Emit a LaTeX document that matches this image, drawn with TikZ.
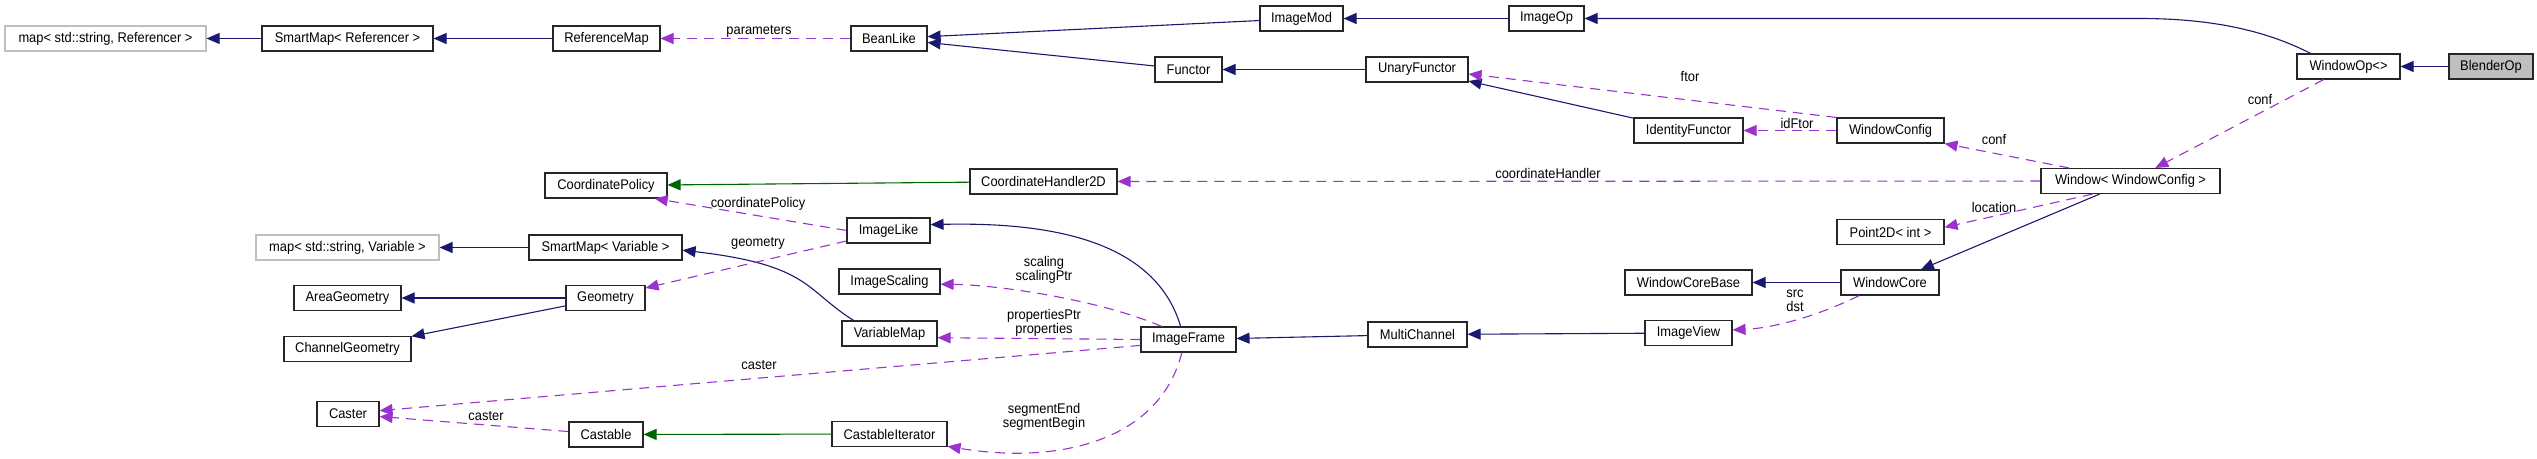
\documentclass[tikz,border=0pt]{standalone}
\usepackage{fontspec}
\setmainfont{Liberation Sans}[FakeStretch=0.92]
\usetikzlibrary{arrows.meta}
\definecolor{inhblue}{HTML}{191970}
\definecolor{usepurple}{HTML}{9A32CD}
\definecolor{tplgreen}{HTML}{006400}
\definecolor{extgray}{HTML}{BFBFBF}

\begin{document}
\begin{tikzpicture}[x=1pt, y=-1pt, every node/.style={font=\fontsize{14}{14}\selectfont},
    cls/.style={draw=black!85, line width=1.1pt, inner sep=0pt, minimum height=25pt},
    ext/.style={cls, draw=extgray},
    lbl/.style={align=center, inner sep=0pt},
    inh/.style={draw=inhblue, line width=1.1pt, -{Triangle[length=13pt,width=11pt]}},
    tpl/.style={inh, draw=tplgreen},
    usg/.style={inh, draw=usepurple, dash pattern=on 10pt off 7pt}]
  \useasboundingbox (0,0) rectangle (2537,458);
  % classes
  \node[ext, minimum width=201] (mapR) at (105.5,38.5) {map< std::string, Referencer >};
  \node[cls, minimum width=171] (smapR) at (347.5,38.5) {SmartMap< Referencer >};
  \node[cls, minimum width=107] (refMap) at (606.5,38.5) {ReferenceMap};
  \node[cls, minimum width=76] (bean) at (889,38.5) {BeanLike};
  \node[cls, minimum width=83] (imod) at (1301.5,18.5) {ImageMod};
  \node[cls, minimum width=75] (iop) at (1546.5,18.5) {ImageOp};
  \node[cls, minimum width=67] (functor) at (1188.5,69.5) {Functor};
  \node[cls, minimum width=102] (unary) at (1417,69.5) {UnaryFunctor};
  \node[cls, minimum width=109] (idf) at (1688.5,130.5) {IdentityFunctor};
  \node[cls, minimum width=107] (wconf) at (1890.5,130.5) {WindowConfig};
  \node[cls, minimum width=103] (wop) at (2348.5,66.5) {WindowOp<>};
  \node[cls, minimum width=84, fill=extgray] (blender) at (2491,66.5) {BlenderOp};
  \node[cls, minimum width=179] (window) at (2130.5,181) {Window< WindowConfig >};
  \node[cls, minimum width=122] (cpol) at (606,185.5) {CoordinatePolicy};
  \node[cls, minimum width=147] (ch2d) at (1043.5,181.5) {CoordinateHandler2D};
  \node[cls, minimum width=107] (p2d) at (1890.5,232) {Point2D< int >};
  \node[cls, minimum width=83] (ilike) at (888.5,230.5) {ImageLike};
  \node[ext, minimum width=183] (mapV) at (347.5,247.5) {map< std::string, Variable >};
  \node[cls, minimum width=153] (smapV) at (605.5,247.5) {SmartMap< Variable >};
  \node[cls, minimum width=101] (iscal) at (889.5,281.5) {ImageScaling};
  \node[cls, minimum width=127] (wcb) at (1688.5,282.5) {WindowCoreBase};
  \node[cls, minimum width=98] (wcore) at (1890,282.5) {WindowCore};
  \node[cls, minimum width=107] (area) at (347.5,298) {AreaGeometry};
  \node[cls, minimum width=79] (geom) at (605.5,298) {Geometry};
  \node[cls, minimum width=95] (vmap) at (889.5,333.5) {VariableMap};
  \node[cls, minimum width=95] (iframe) at (1188.5,339.5) {ImageFrame};
  \node[cls, minimum width=99] (mchan) at (1417.5,334.5) {MultiChannel};
  \node[cls, minimum width=87] (iview) at (1688.5,333) {ImageView};
  \node[cls, minimum width=127] (chgeom) at (347.5,349) {ChannelGeometry};
  \node[cls, minimum width=62] (caster) at (348,414) {Caster};
  \node[cls, minimum width=74] (castable) at (606,434.5) {Castable};
  \node[cls, minimum width=115] (citer) at (889.5,434) {CastableIterator};
  % inheritance
  \foreach \a/\b in {smapR/mapR, refMap/smapR, imod/bean, functor/bean, iop/imod, blender/wop,
      unary/functor, idf/unary, wcore/wcb, iview/mchan, mchan/iframe, smapV/mapV, geom/area,
      geom/chgeom, window/wcore}
    \draw[inh] (\a) -- (\b);
  \draw[inh] (wop.161) .. controls (2265,30) and (2210,18.5) .. (2140,18.5) -- (iop.east);
  \draw[inh] (iframe.121) .. controls (1155,240) and (1050,222) .. (ilike.8);
  \draw[inh] (vmap.160) .. controls (805,290) and (810,265) .. (smapV.-2);
  \draw[tpl] (ch2d) -- (cpol);
  \draw[tpl] (citer) -- (castable);
  % members
  \draw[usg] (bean) -- (refMap);
  \draw[usg] (wconf.north west) -- (unary.-5);
  \draw[usg] (wconf) -- (idf);
  \draw[usg] (window.168) -- (wconf.south east);
  \draw[usg] (wop) -- (window);
  \draw[usg] (window) -- (ch2d);
  \draw[usg] (window.-161) -- (p2d.5);
  \draw[usg] (wcore.-157) .. controls (1820,315) and (1775,328) .. (iview.4);
  \draw[usg] (iframe.154) .. controls (1100,300) and (1000,285) .. (iscal.-3);
  \draw[usg] (iframe.west) -- (vmap.-5);
  \draw[usg] (iframe.-173) -- (caster.6);
  \draw[usg] (iframe.-117) .. controls (1160,440) and (1060,465) .. (citer.-12);
  \draw[usg] (ilike.west) -- (cpol.-15);
  \draw[usg] (ilike.-166) -- (geom.14);
  \draw[usg] (castable) -- (caster);
  % labels
  \node[lbl] (lpar) at (759,31) {parameters};
  \node[lbl] (lftor) at (1690,77) {ftor};
  \node[lbl] (lidf) at (1797,123) {idFtor};
  \node[lbl] (lconfa) at (1994,139) {conf};
  \node[lbl] (lconfb) at (2260,100) {conf};
  \node[lbl] (lch) at (1548,173) {coordinateHandler};
  \node[lbl] (lloc) at (1994,207) {location};
  \node[lbl] (lsrc) at (1795,301) {src\\dst};
  \node[lbl] (lscal) at (1044,269.5) {scaling\\scalingPtr};
  \node[lbl] (lprop) at (1044,323) {propertiesPtr\\properties};
  \node[lbl] (lcasta) at (759,365) {caster};
  \node[lbl] (lseg) at (1044,416.5) {segmentEnd\\segmentBegin};
  \node[lbl] (lcpol) at (758,204) {coordinatePolicy};
  \node[lbl] (lgeom) at (758,243) {geometry};
  \node[lbl] (lcastb) at (486,416) {caster};
\end{tikzpicture}
\end{document}
